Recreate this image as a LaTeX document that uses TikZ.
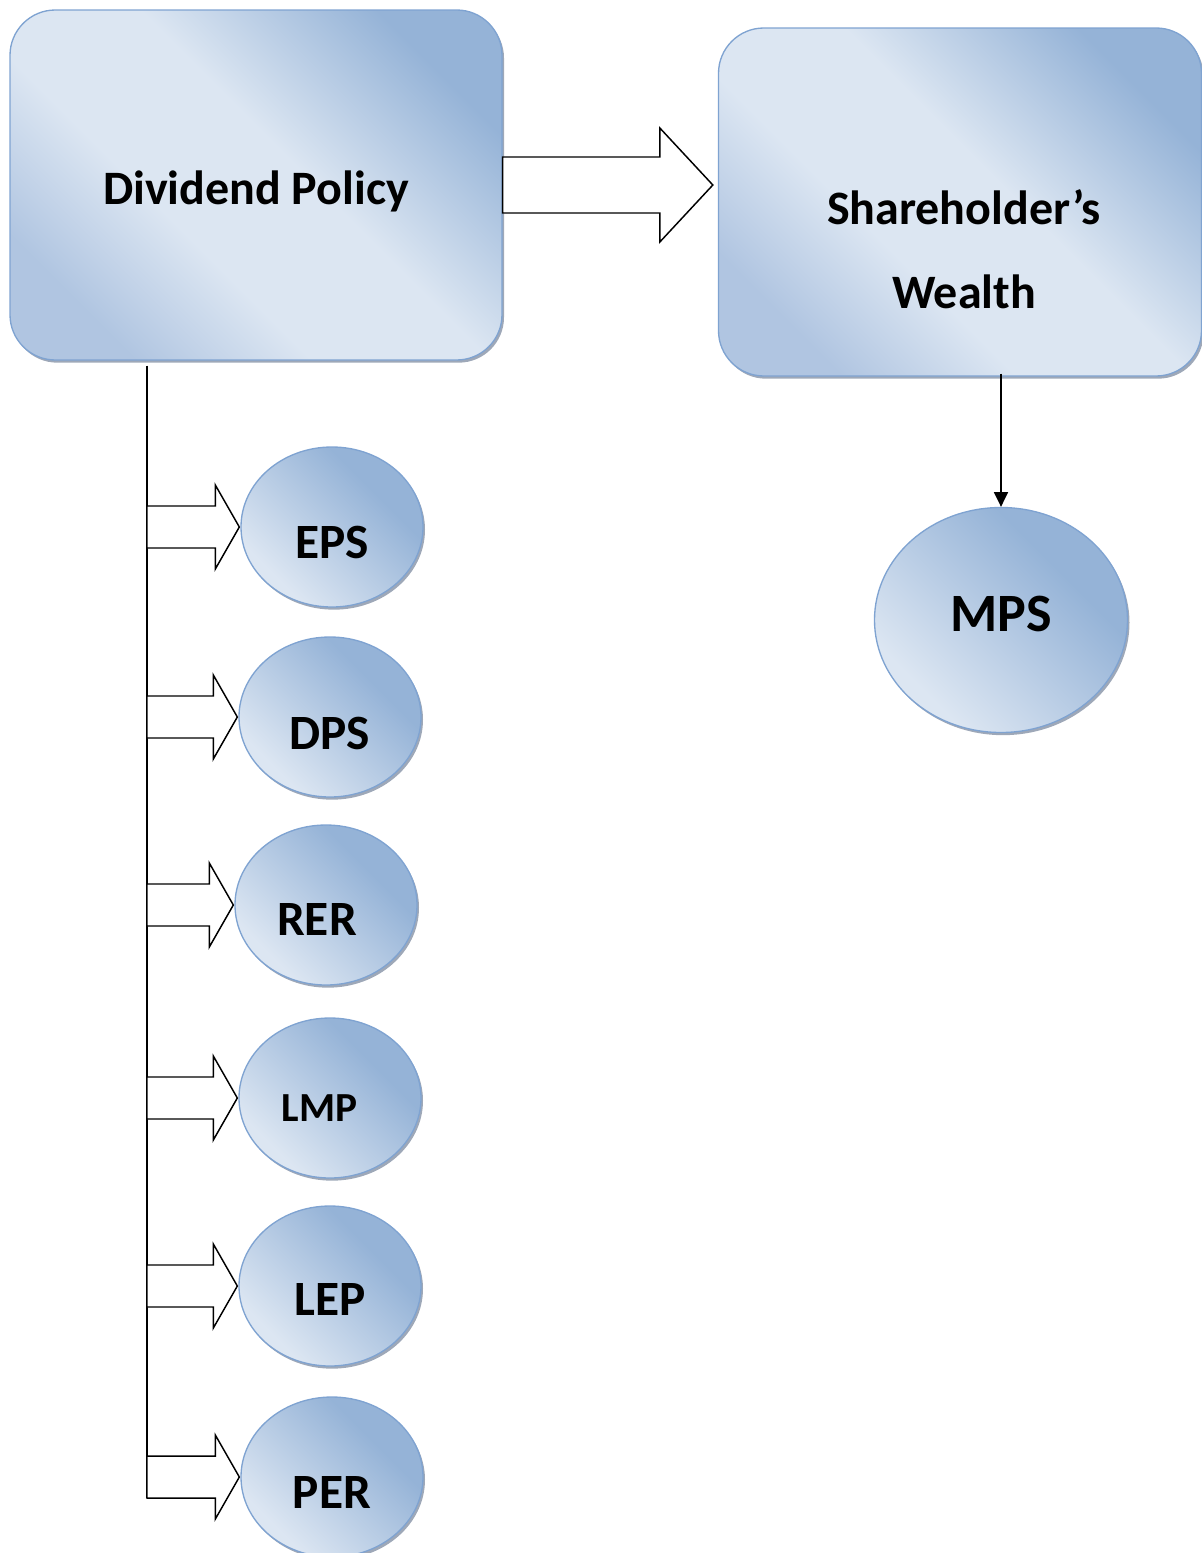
\documentclass[tikz,border=0pt]{standalone}
\usepackage{fontspec}
\setmainfont{Carlito}
\usetikzlibrary{calc,shadows,shapes.geometric,arrows.meta}
\definecolor{dk}{HTML}{95B3D7}
\definecolor{lt}{HTML}{DCE6F2}
\definecolor{md}{HTML}{B0C5E1}
\definecolor{bd}{HTML}{7FA3D1}
\definecolor{shc}{HTML}{7E8BA0}
\pgfdeclareverticalshading{boxgrad}{100bp}{color(0bp)=(md); color(25bp)=(md); color(40bp)=(lt); color(55bp)=(lt); color(75bp)=(dk); color(100bp)=(dk)}
\pgfdeclareverticalshading{ovalgrad}{100bp}{color(0bp)=(lt); color(28bp)=(lt); color(66bp)=(dk); color(100bp)=(dk)}
\newcommand\lbl[3]{\makebox[0pt]{\hspace*{#1}\raisebox{\dimexpr-.316em-#2\relax}[0pt][0pt]{#3}}}
\tikzset{
  shd/.style={drop shadow={shadow xshift=1.5pt, shadow yshift=-2pt, fill=shc, opacity=0.75}},
  box/.style={rectangle, rounded corners=34pt, draw=bd, line width=1pt,
    shade, shading=boxgrad, shading angle=-45,
    inner sep=0pt, shd, font=\bfseries\fontsize{36}{43}\selectfont},
  oval/.style={ellipse, draw=bd, line width=1pt, shade, shading=ovalgrad,
    shading angle=-45, inner sep=0pt, minimum width=136.5pt, minimum height=120pt,
    shd, font=\bfseries\fontsize{37}{44}\selectfont},
  barrow/.style={draw=black, fill=white, line width=1.1pt, line join=miter},
  trunkline/.style={draw=black, line width=1.1pt},
  conn/.style={draw=black, line width=1.1pt, -{Triangle[width=10.5pt,length=11pt]}},
}
\newcommand\blockarr[1]{%
  \draw[barrow] ($(#1.west -| trunk)+(0,-21)$) -- ($(#1.west)+(-25,-21)$)
    -- ($(#1.west)+(-25,-42)$) -- ($(#1.west)+(-1,0)$) -- ($(#1.west)+(-25,42)$)
    -- ($(#1.west)+(-25,21)$) -- ($(#1.west -| trunk)+(0,21)$) -- cycle;}
\begin{document}
\begin{tikzpicture}[x=0.75pt,y=-0.75pt]
\useasboundingbox (0,0) rectangle (1202,1553);
% main boxes
\node[box, minimum width=369pt, minimum height=262.5pt] (dp) at (256,185)
  {\lbl{0pt}{3pt}{Dividend Policy}};
\node[box, minimum width=362.25pt, minimum height=261pt] (sw) at (960,202)
  {\makebox[0pt]{\hspace*{6pt}\raisebox{\dimexpr-36.75pt-.25em\relax}[0pt][0pt]{\begin{tabular}{@{}c@{}}Shareholder’s\\[20pt]Wealth\end{tabular}}}};
% ellipses
\node[oval] (eps) at (332,527)  {\lbl{0pt}{12pt}{EPS}};
\node[oval] (dps) at (330,717)  {\lbl{0pt}{12.75pt}{DPS}};
\node[oval] (rer) at (326,905)  {\lbl{-13.5pt}{10.9pt}{RER}};
\node[oval, font=\bfseries\fontsize{31}{37}\selectfont] (lmp) at (330,1098) {\lbl{-15.75pt}{7.9pt}{LMP}};
\node[oval] (lep) at (330,1286) {\lbl{0pt}{10.1pt}{LEP}};
\node[oval] (per) at (332,1477) {\lbl{0pt}{12pt}{PER}};
\node[oval, minimum width=189.75pt, minimum height=168.75pt,
  font=\bfseries\fontsize{40.5}{48}\selectfont] (mps) at (1001,620) {\lbl{0pt}{-4.1pt}{MPS}};
% big block arrow
\coordinate (t1) at ($(sw.west |- dp.east)+(-5,0)$);
\draw[barrow] ($(dp.east)+(0,-28)$) -- ($(t1)+(-53,-28)$) -- ($(t1)+(-53,-57)$)
  -- (t1) -- ($(t1)+(-53,57)$) -- ($(t1)+(-53,28)$) -- ($(dp.east)+(0,28)$) -- cycle;
% trunk
\coordinate (trunk) at (147,0);
\draw[trunkline] ($(dp.south -| trunk)+(0,5)$) -- ($(per.west -| trunk)+(0,21)$);
\blockarr{eps}
\blockarr{dps}
\blockarr{rer}
\blockarr{lmp}
\blockarr{lep}
\blockarr{per}
% MPS connector
\draw[conn] ($(sw.south -| mps.north)+(0,-3)$) -- (mps.north);
\end{tikzpicture}
\end{document}
